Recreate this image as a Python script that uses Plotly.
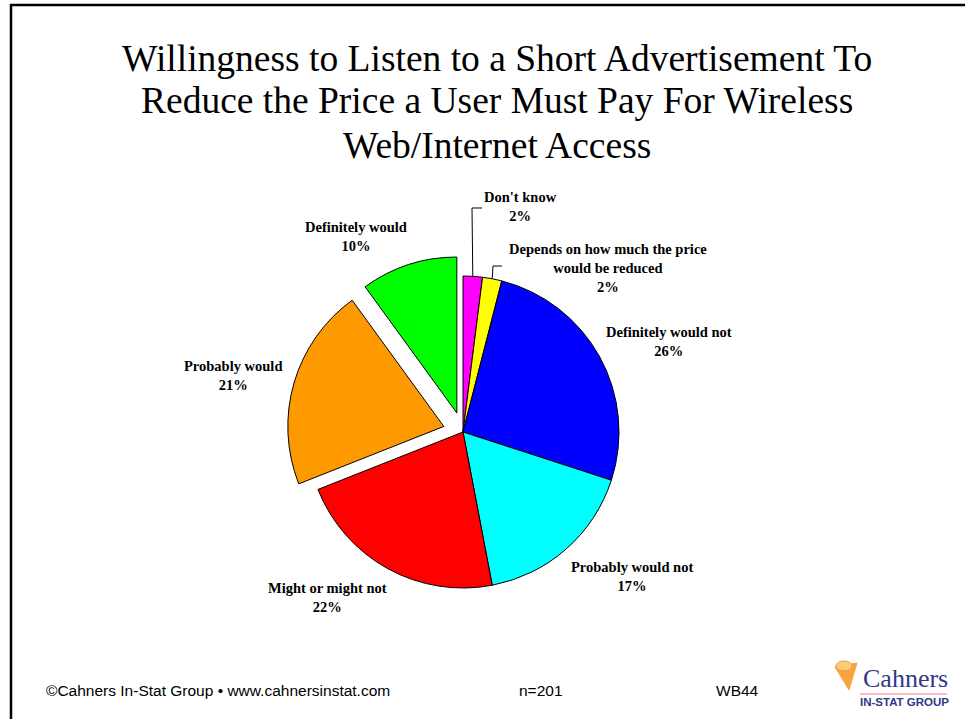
import math
import plotly.graph_objects as go

# Survey answers, clockwise from 12 o'clock
categories = [
    "Don't know",
    "Depends on how much the price<br>would be reduced",
    "Definitely would not",
    "Probably would not",
    "Might or might not",
    "Probably would",
    "Definitely would",
]
percentages = [2, 2, 26, 17, 22, 21, 10]
slice_colors = ["#FF00FF", "#FFFF00", "#0000FF", "#00FFFF", "#FF0000", "#FF9900", "#00FF00"]
pulls = [0, 0, 0, 0, 0, 0.128, 0.128]

title_lines = [
    "Willingness to Listen to a Short Advertisement To",
    "Reduce the Price a User Must Pay For Wireless",
    "Web/Internet Access",
]
footer_source = "©Cahners In-Stat Group • www.cahnersinstat.com"
footer_n = "n=201"
footer_code = "WB44"

W, H = 965, 719

# Pie placement (pixels)
CX, CY = 463, 432
R = 156
HALF = R * (1 + max(pulls))

# Label centres (pixels), one per category
label_pos = [(520, 207), (608, 268), (669, 341), (632, 576), (327, 597), (233, 375), (356, 236)]
# Elbow points of the leader lines for the two thin slices (pixels)
leader_elbows = {0: [(472, 208), (482, 208)], 1: [(493, 266), (502, 266)]}


def px(x, y):
    return x / W, 1 - y / H


fig = go.Figure()
fig.add_trace(go.Pie(
    labels=categories,
    values=percentages,
    sort=False,
    direction="clockwise",
    rotation=0,
    pull=pulls,
    textinfo="none",
    hoverinfo="label+percent",
    marker=dict(colors=slice_colors, line=dict(color="black", width=1)),
    domain=dict(x=[(CX - HALF) / W, (CX + HALF) / W],
                y=[1 - (CY + HALF) / H, 1 - (CY - HALF) / H]),
    showlegend=False,
))

annotations = []
shapes = []

# Title
title_y = [58, 101, 145]
for line, ty in zip(title_lines, title_y):
    x, y = px(497, ty)
    annotations.append(dict(x=x, y=y, xref="paper", yref="paper", text=line, showarrow=False,
                            xanchor="center", yanchor="middle",
                            font=dict(family="Liberation Serif, Times New Roman, serif", size=37.5, color="black")))

# Slice labels
total = sum(percentages)
for i, (cat, pct) in enumerate(zip(categories, percentages)):
    lx, ly = label_pos[i]
    x, y = px(lx, ly)
    annotations.append(dict(x=x, y=y, xref="paper", yref="paper",
                            text=f"<b>{cat}<br>{pct}%</b>", showarrow=False,
                            xanchor="center", yanchor="middle", align="center",
                            font=dict(family="Liberation Serif, Times New Roman, serif", size=14.5, color="black")))

# Leader lines from the arc at the slice bisector
cum = 0
for i, pct in enumerate(percentages):
    mid = (cum + pct / 2) / total * 2 * math.pi
    cum += pct
    if i not in leader_elbows:
        continue
    sx, sy = CX + R * math.sin(mid), CY - R * math.cos(mid)
    pts = [(sx, sy)] + leader_elbows[i]
    path = "M " + " L ".join(f"{px(a, b)[0]},{px(a, b)[1]}" for a, b in pts)
    shapes.append(dict(type="path", xref="paper", yref="paper", path=path,
                       line=dict(color="black", width=1)))

# Slide frame: top and left rules
shapes.append(dict(type="line", xref="paper", yref="paper", x0=10 / W, x1=1, y0=1 - 5 / H, y1=1 - 5 / H,
                   line=dict(color="black", width=2.5)))
shapes.append(dict(type="line", xref="paper", yref="paper", x0=11 / W, x1=11 / W, y0=0, y1=1 - 4 / H,
                   line=dict(color="black", width=2.5)))

# Footer
foot_font = dict(family="Liberation Sans, Arial, sans-serif", size=15.5, color="black")
for text, fx, anchor in [(footer_source, 44, "left"), (footer_n, 541, "center"), (footer_code, 737, "center")]:
    x, y = px(fx, 690)
    annotations.append(dict(x=x, y=y, xref="paper", yref="paper", text=text, showarrow=False,
                            xanchor=anchor, yanchor="middle", font=foot_font))

# Logo
x, y = px(905, 678)
annotations.append(dict(x=x, y=y, xref="paper", yref="paper", text="Cahners", showarrow=False,
                        xanchor="center", yanchor="middle",
                        font=dict(family="Liberation Serif, Times New Roman, serif", size=26, color="#2E3A87")))
x, y = px(904, 702)
annotations.append(dict(x=x, y=y, xref="paper", yref="paper", text="<b>IN-STAT GROUP</b>", showarrow=False,
                        xanchor="center", yanchor="middle",
                        font=dict(family="Liberation Sans Narrow, Arial Narrow, Liberation Sans, sans-serif",
                                  size=11.5, color="#2E3A87")))
shapes.append(dict(type="line", xref="paper", yref="paper", x0=860 / W, x1=947 / W,
                   y0=1 - 694 / H, y1=1 - 694 / H, line=dict(color="#F08080", width=1)))
funnel = [(835, 667), (857, 663), (849, 690)]
shapes.append(dict(type="path", xref="paper", yref="paper",
                   path="M " + " L ".join(f"{px(a, b)[0]},{px(a, b)[1]}" for a, b in funnel) + " Z",
                   fillcolor="#F6A540", line=dict(color="#F6A540", width=1)))
shapes.append(dict(type="circle", xref="paper", yref="paper", x0=836 / W, x1=852 / W,
                   y0=1 - 671 / H, y1=1 - 661 / H, fillcolor="#FBCB7E", line=dict(color="#F29A3A", width=1)))

fig.update_layout(
    width=W, height=H,
    margin=dict(l=0, r=0, t=0, b=0),
    paper_bgcolor="white", plot_bgcolor="white",
    annotations=annotations, shapes=shapes,
)

fig.write_html("out.html")
